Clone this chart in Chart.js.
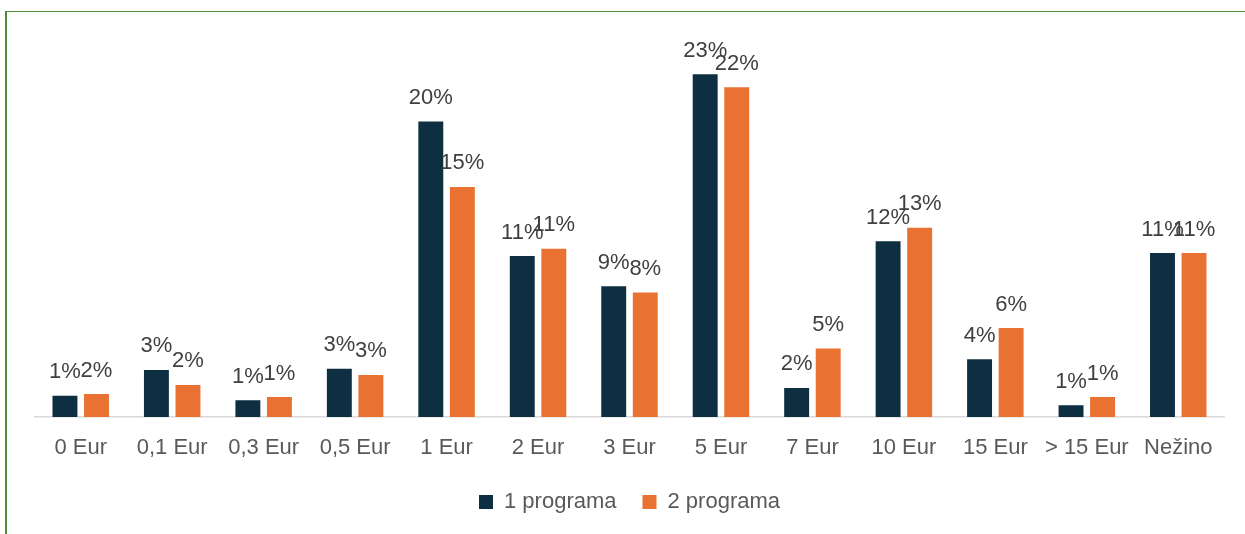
<!DOCTYPE html>
<html>
<head>
<meta charset="utf-8">
<script src="https://cdn.jsdelivr.net/npm/chart.js@4/dist/chart.umd.min.js"></script>
<style>
  html, body { margin: 0; padding: 0; background: #ffffff; }
  #wrap { position: relative; width: 1245px; height: 534px; overflow: hidden; }
  #frame { position: absolute; left: 5px; top: 11px; width: 1400px; height: 600px;
           border-left: 2px solid #4F8A35; border-top: 1px solid #4F8A35; box-sizing: border-box; }
  canvas { position: absolute; left: 0; top: 0; }
</style>
</head>
<body>
<div id="wrap">
  <div id="frame"></div>
  <canvas id="c" width="1245" height="534"></canvas>
</div>
<script>
const categories = ["0 Eur", "0,1 Eur", "0,3 Eur", "0,5 Eur", "1 Eur", "2 Eur", "3 Eur", "5 Eur", "7 Eur", "10 Eur", "15 Eur", "> 15 Eur", "Nežino"];
const seriesNames = ["1 programa", "2 programa"];
const program1 = [1.42, 3.16, 1.13, 3.23, 19.83, 10.8, 8.77, 23.0, 1.95, 11.8, 3.87, 0.79, 11.0];
const program2 = [1.54, 2.15, 1.34, 2.82, 15.44, 11.3, 8.35, 22.13, 4.6, 12.7, 5.97, 1.34, 11.0];
const yMin = 0;
const yMax = 25;

const FONT = "'Liberation Sans', Arial, sans-serif";

const labelPlugin = {
  id: 'barLabels',
  afterDatasetsDraw(chart) {
    const ctx = chart.ctx;
    ctx.save();
    ctx.font = "22px " + FONT;
    ctx.fillStyle = '#404040';
    ctx.textAlign = 'center';
    ctx.textBaseline = 'alphabetic';
    chart.data.datasets.forEach((ds, di) => {
      const meta = chart.getDatasetMeta(di);
      meta.data.forEach((el, i) => {
        const v = ds.data[i];
        ctx.fillText(Math.round(v) + '%', el.x, el.y - 17.5);
      });
    });
    ctx.restore();
  }
};

new Chart(document.getElementById('c'), {
  type: 'bar',
  data: {
    labels: categories,
    datasets: [
      { label: seriesNames[0], data: program1, backgroundColor: '#0E2F42',
        categoryPercentage: 0.69, barPercentage: 0.79 },
      { label: seriesNames[1], data: program2, backgroundColor: '#E97132',
        categoryPercentage: 0.69, barPercentage: 0.79 }
    ]
  },
  options: {
    responsive: false,
    devicePixelRatio: 1,
    animation: false,
    layout: { padding: { left: 35, right: 21, top: 44.5, bottom: 11 } },
    plugins: {
      tooltip: { enabled: false },
      legend: {
        position: 'bottom',
        labels: {
          boxWidth: 14, boxHeight: 14, padding: 26,
          color: '#595959',
          font: { family: FONT, size: 22 }
        }
      }
    },
    scales: {
      x: {
        grid: { display: false, drawTicks: false },
        border: { display: true, color: '#D9D9D9', width: 1.5 },
        ticks: { color: '#595959', font: { family: FONT, size: 22 }, padding: 18, maxRotation: 0, autoSkip: false },
        afterFit: (s) => { s.height = 48; }
      },
      y: { display: false, min: yMin, max: yMax }
    }
  },
  plugins: [labelPlugin]
});
</script>
</body>
</html>
